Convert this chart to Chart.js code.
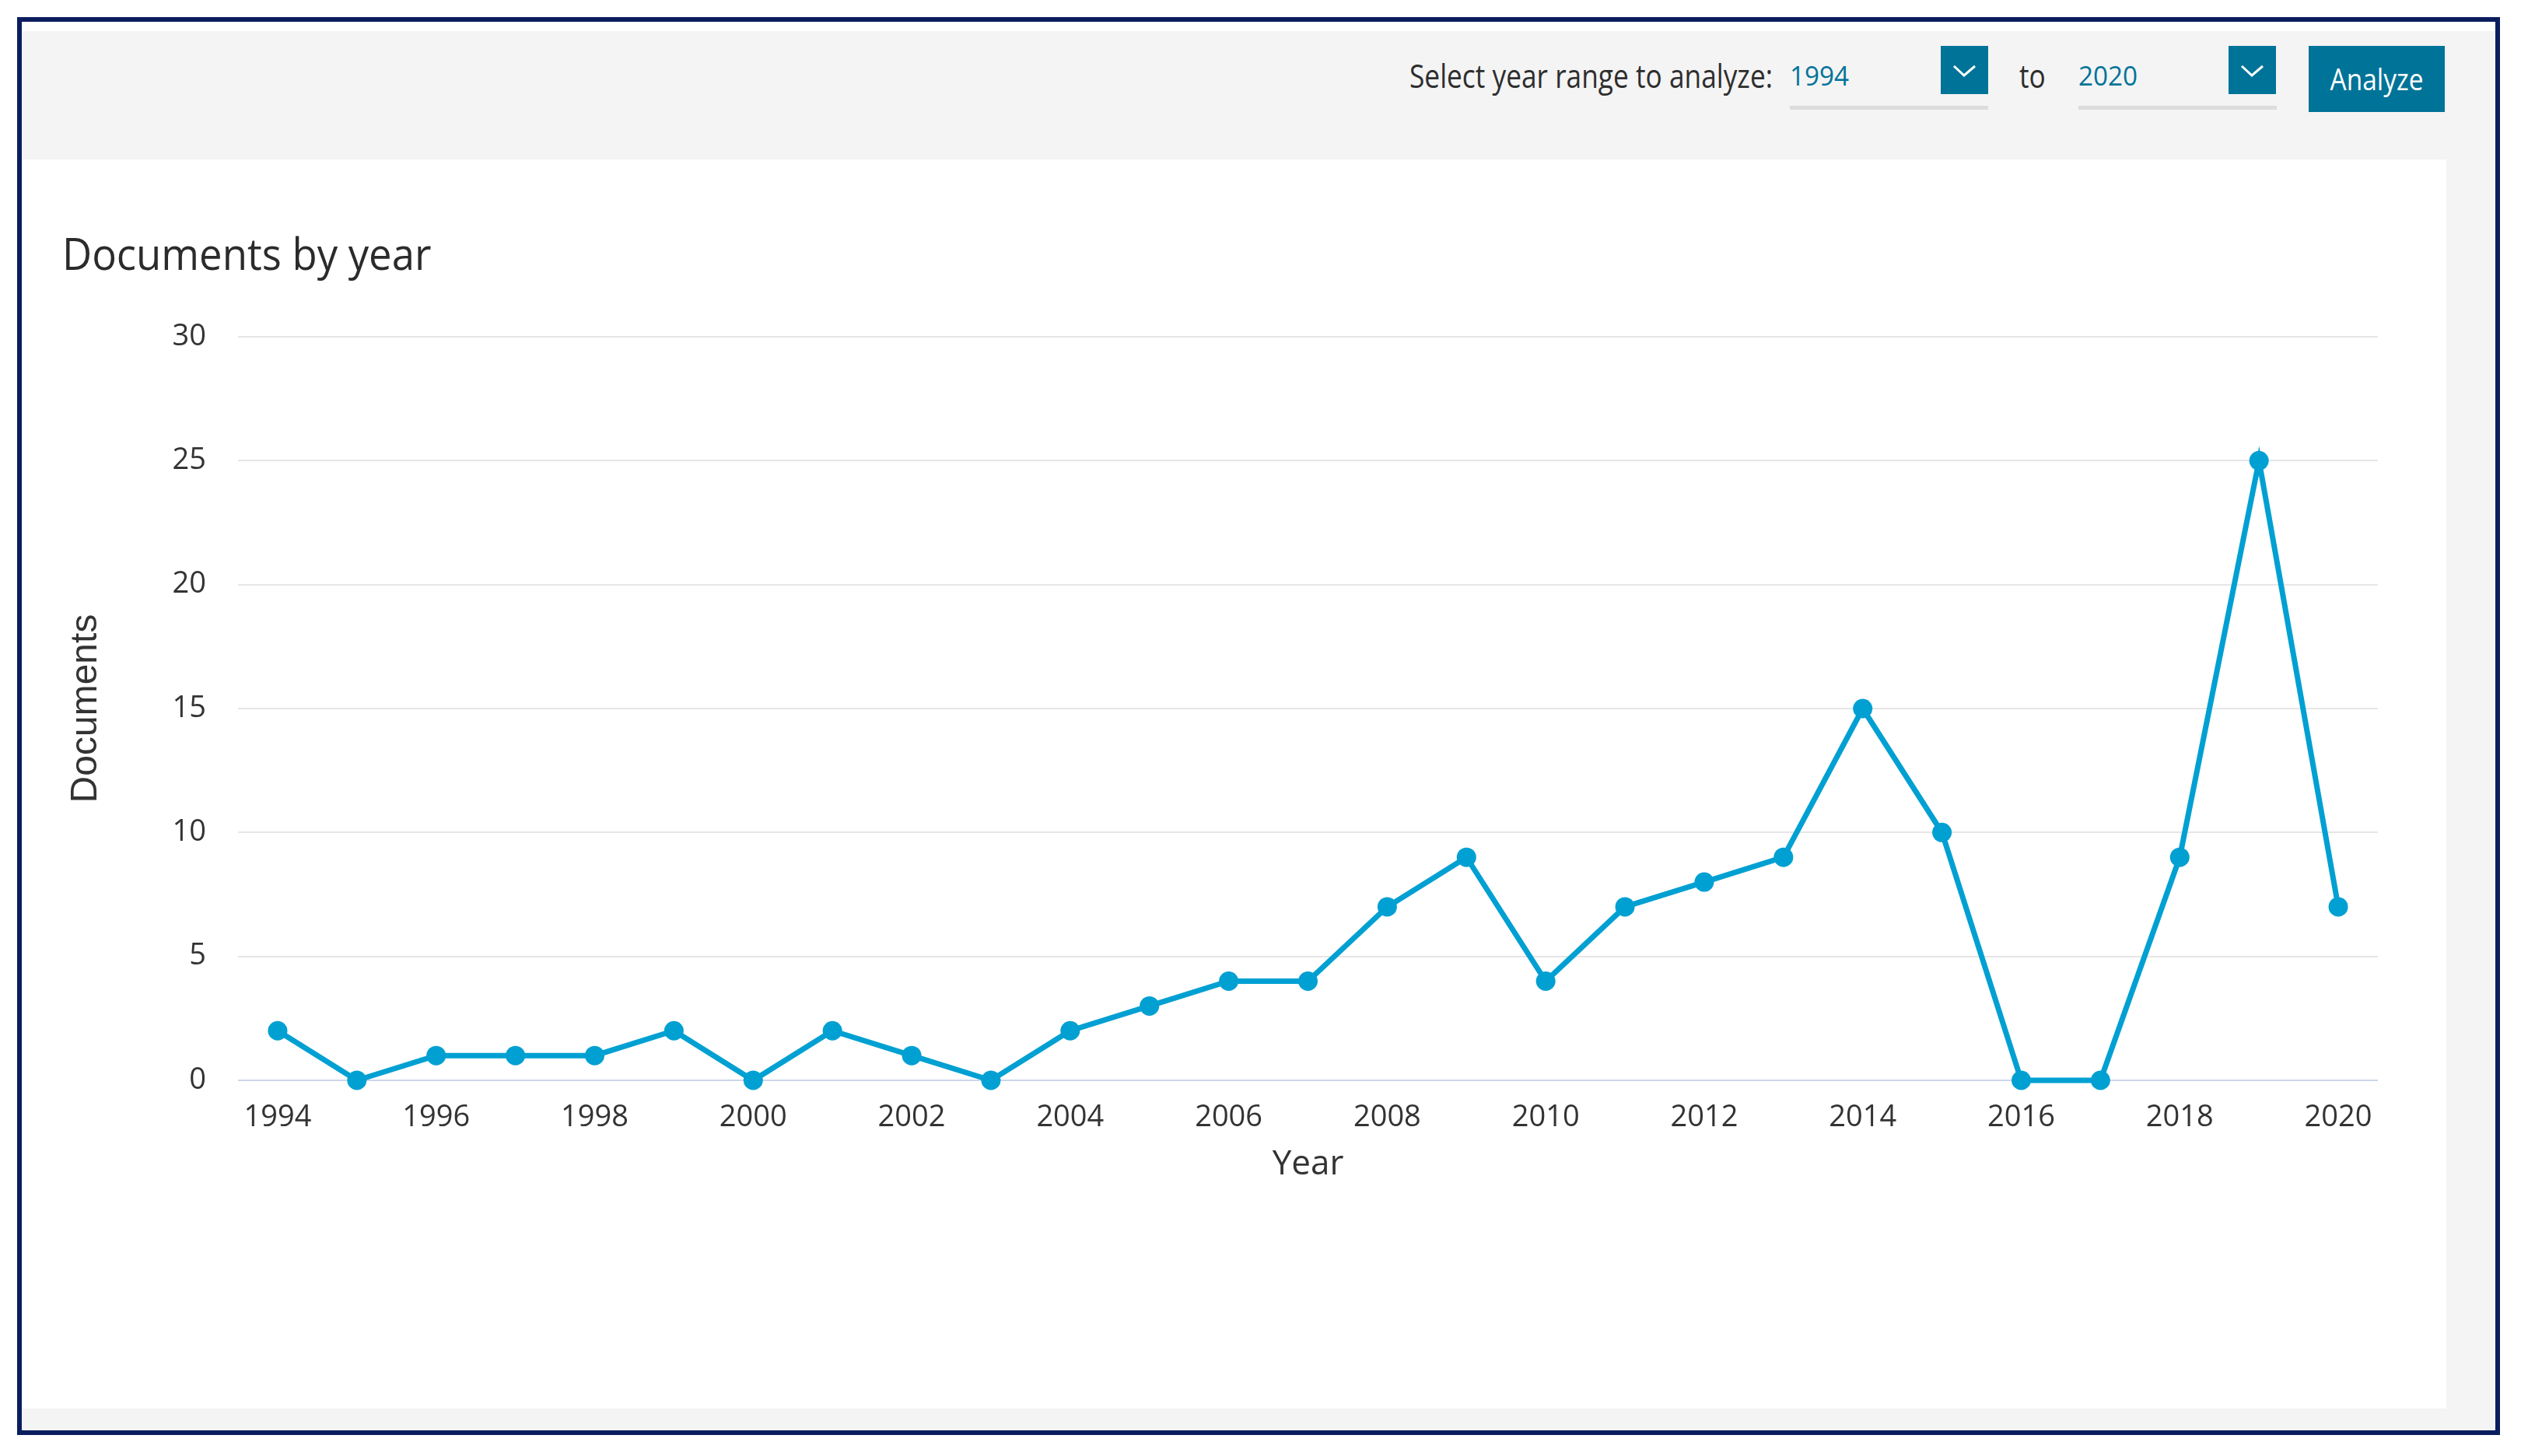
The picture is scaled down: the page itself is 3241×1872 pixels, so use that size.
<!DOCTYPE html>
<html>
<head>
<meta charset="utf-8">
<script src="https://cdn.jsdelivr.net/npm/chart.js@4.4.0/dist/chart.umd.min.js"></script>
<style>
    body { margin: 0; width: 3241px; height: 1872px; background: #fff; overflow: hidden;
           font-family: 'Open Sans', sans-serif; }
    .frame { position: absolute; left: 22px; top: 22px; width: 3180px; height: 1811px;
             border: 6px solid #0b1d5e; background: #fff; }
    .grey { position: absolute; left: 0; top: 12px; right: 0; bottom: 0; background: #f4f4f4; }
    .card { position: absolute; left: 0; top: 177px; width: 3117px; height: 1606px; background: #fff; }
    .txt { position: absolute; line-height: 1; white-space: nowrap; transform-origin: 0 0; }
    .drop { position: absolute; top: 31px; width: 61px; height: 62px; background: #007398; }
    .line { position: absolute; top: 108px; height: 5px; width: 255px; background: #dcdcdc; }
    .btn { position: absolute; left: 2940px; top: 31px; width: 175px; height: 85px; background: #007398; }
    .btn span { display: block; color: #fff; font-size: 38px; line-height: 85px; text-align: center;
                transform: scaleX(0.88); }
    .title { position: absolute; left: 52px; top: 269px; font-size: 56px; line-height: 1; color: #2b2b2b;
             white-space: nowrap; transform-origin: 0 0; transform: scaleX(0.94); }
    .chart-box { position: absolute; left: 0; top: 177px; width: 3117px; height: 1606px; }
</style>
</head>
<body>
<div class="frame">
    <div class="grey"></div>
    <div class="card"></div>

    <div class="txt" style="left:1784px; top:48px; font-size:42px; color:#2e2e2e; transform:scaleX(0.84);">Select year range to analyze:</div>
    <div class="txt" style="left:2273px; top:51px; font-size:35px; color:#007398; transform:scaleX(0.95);">1994</div>
    <div class="line" style="left:2273px;"></div>
    <div class="drop" style="left:2467px;">
        <svg width="61" height="62"><polyline points="17,26 30,38 44,26" fill="none" stroke="#fff" stroke-width="3"/></svg>
    </div>
    <div class="txt" style="left:2568px; top:48px; font-size:42px; color:#2e2e2e; transform:scaleX(0.84);">to</div>
    <div class="txt" style="left:2644px; top:51px; font-size:35px; color:#007398; transform:scaleX(0.95);">2020</div>
    <div class="line" style="left:2644px;"></div>
    <div class="drop" style="left:2837px;">
        <svg width="61" height="62"><polyline points="17,26 30,38 44,26" fill="none" stroke="#fff" stroke-width="3"/></svg>
    </div>
    <div class="btn"><span>Analyze</span></div>

    <div class="title">Documents by year</div>
    <div class="chart-box"><canvas id="docsChart"></canvas></div>
</div>

<script>
const years = ['1994', '1995', '1996', '1997', '1998', '1999', '2000', '2001', '2002', '2003',
    '2004', '2005', '2006', '2007', '2008', '2009', '2010', '2011', '2012', '2013',
    '2014', '2015', '2016', '2017', '2018', '2019', '2020'];
const documents = [2, 0, 1, 1, 1, 2, 0, 2, 1, 0,
    2, 3, 4, 4, 7, 9, 4, 7, 8, 9,
    15, 10, 0, 0, 9, 25, 7];
const yTicks = [0, 5, 10, 15, 20, 25, 30];

const fontFamily = "'Open Sans', sans-serif";
const lineColor = '#00a0d2';

function renderDocumentsChart() {
    const ctx = document.getElementById('docsChart').getContext('2d');

    new Chart(ctx, {
        type: 'line',
        data: {
            labels: years,
            datasets: [{
                label: 'Documents',
                data: documents,
                borderColor: lineColor,
                backgroundColor: lineColor,
                borderWidth: 7,
                pointRadius: 12.5,
                pointHoverRadius: 12.5,
                pointBorderWidth: 0,
                tension: 0,
                fill: false,
                clip: false
            }]
        },
        options: {
            responsive: true,
            maintainAspectRatio: false,
            animation: false,
            layout: {
                padding: { left: 54, top: 228, right: 88, bottom: 0 }
            },
            plugins: {
                legend: { display: false },
                tooltip: { enabled: false }
            },
            scales: {
                x: {
                    type: 'category',
                    offset: true,
                    grid: { display: false, drawTicks: false },
                    border: { display: false },
                    ticks: {
                        autoSkip: false,
                        maxRotation: 0,
                        padding: 25,
                        color: '#333',
                        font: { family: fontFamily, size: 38 },
                        callback: function (value, index) {
                            return index % 2 === 0 ? years[index] : '';
                        }
                    },
                    title: {
                        display: true,
                        text: 'Year',
                        color: '#333',
                        font: { family: fontFamily, size: 44 },
                        padding: { top: 0, bottom: 287 }
                    },
                    afterFit: function (scale) {
                        scale.height = 422;
                    }
                },
                y: {
                    min: 0,
                    max: 30,
                    afterBuildTicks: function (scale) {
                        scale.ticks = yTicks.map(v => ({ value: v }));
                    },
                    grid: {
                        drawTicks: false,
                        lineWidth: 2,
                        color: function (c) {
                            return c.tick && c.tick.value === 0 ? '#ccd6eb' : '#e6e6e6';
                        }
                    },
                    border: { display: false },
                    ticks: {
                        padding: 41,
                        color: '#333',
                        font: { family: fontFamily, size: 38 }
                    },
                    title: {
                        display: true,
                        text: 'Documents',
                        color: '#333',
                        font: { family: "'Liberation Sans', Arial, sans-serif", size: 48 },
                        padding: { top: 0, bottom: 0 }
                    },
                    afterFit: function (scale) {
                        scale.width = 224;
                    }
                }
            }
        }
    });
}

renderDocumentsChart();
</script>
</body>
</html>
